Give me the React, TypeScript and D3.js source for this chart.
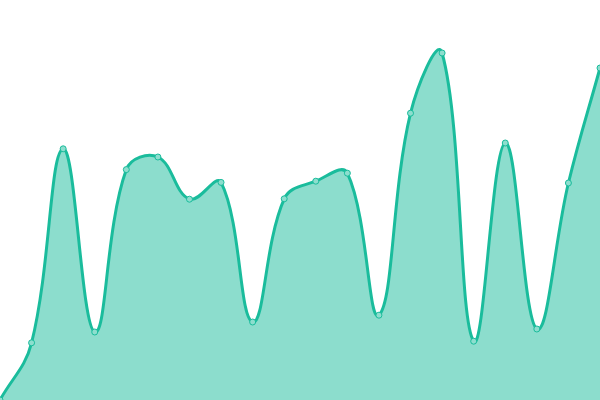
import React from "react";
import * as d3 from "d3";

const categories: string[] = Array.from({ length: 20 }, (_, i) => `P${i + 1}`);
const values: number[] = [0, 14.3, 62.8, 17, 57.6, 60.75, 50.2, 54.4, 19.5, 50.3, 54.7, 56.7, 21.2, 71.7, 86.75, 14.7, 64.25, 17.75, 54.25, 83];
const yDomain: [number, number] = [0, 100];

const W = 600;
const H = 400;
const LINE = "#1abc9c";
const FILL = "rgba(26,188,156,0.5)";
const POINT_FILL = "#8ddece";
const TENSION = 0.4;

// Tension spline (distance-weighted control points), with control points capped to the plot area
class TensionSpline {
  _context: any;
  _line: number = NaN;
  _xs: number[] = [];
  _ys: number[] = [];
  constructor(context: any) {
    this._context = context;
  }
  areaStart() {
    this._line = 0;
  }
  areaEnd() {
    this._line = NaN;
  }
  lineStart() {
    this._xs = [];
    this._ys = [];
  }
  point(x: number, y: number) {
    this._xs.push(+x);
    this._ys.push(+y);
  }
  lineEnd() {
    const xs = this._xs;
    const ys = this._ys;
    const n = xs.length;
    const ctx = this._context;
    if (n) {
      const cpPrev: [number, number][] = [];
      const cpNext: [number, number][] = [];
      const clampX = (v: number) => Math.max(0, Math.min(W, v));
      const clampY = (v: number) => Math.max(0, Math.min(H, v));
      for (let i = 0; i < n; i++) {
        const p0x = xs[Math.max(0, i - 1)], p0y = ys[Math.max(0, i - 1)];
        const p1x = xs[i], p1y = ys[i];
        const p2x = xs[Math.min(n - 1, i + 1)], p2y = ys[Math.min(n - 1, i + 1)];
        const d01 = Math.hypot(p1x - p0x, p1y - p0y);
        const d12 = Math.hypot(p2x - p1x, p2y - p1y);
        let s01 = d01 / (d01 + d12);
        let s12 = d12 / (d01 + d12);
        if (!isFinite(s01)) s01 = 0;
        if (!isFinite(s12)) s12 = 0;
        const fa = TENSION * s01;
        const fb = TENSION * s12;
        cpPrev.push([clampX(p1x - fa * (p2x - p0x)), clampY(p1y - fa * (p2y - p0y))]);
        cpNext.push([clampX(p1x + fb * (p2x - p0x)), clampY(p1y + fb * (p2y - p0y))]);
      }
      if (this._line) ctx.lineTo(xs[0], ys[0]);
      else ctx.moveTo(xs[0], ys[0]);
      for (let i = 1; i < n; i++) {
        ctx.bezierCurveTo(cpNext[i - 1][0], cpNext[i - 1][1], cpPrev[i][0], cpPrev[i][1], xs[i], ys[i]);
      }
    }
    if (this._line || (this._line !== 0 && n === 1)) ctx.closePath();
    this._line = 1 - this._line;
  }
}
const curveTension = (context: any) => new TensionSpline(context);

export default function App() {
  const x = d3.scalePoint<string>().domain(categories).range([0, W]);
  const y = d3.scaleLinear().domain(yDomain).range([H, 0]);
  const data = categories.map((c, i) => ({ c, v: values[i] }));
  const area = d3
    .area<{ c: string; v: number }>()
    .x((d) => x(d.c)!)
    .y0(y(0))
    .y1((d) => y(d.v))
    .curve(curveTension as any);
  const line = d3
    .line<{ c: string; v: number }>()
    .x((d) => x(d.c)!)
    .y((d) => y(d.v))
    .curve(curveTension as any);
  return (
    <svg
      width={W}
      height={H}
      style={{ position: "absolute", left: 0, top: 0, background: "#fff" }}
    >
      <path d={area(data)!} fill={FILL} stroke="none" />
      <path d={line(data)!} fill="none" stroke={LINE} strokeWidth={3} />
      {data.map((d, i) => (
        <circle
          key={i}
          cx={x(d.c)!}
          cy={y(d.v)}
          r={3}
          fill={POINT_FILL}
          stroke={LINE}
          strokeWidth={1}
        />
      ))}
    </svg>
  );
}
